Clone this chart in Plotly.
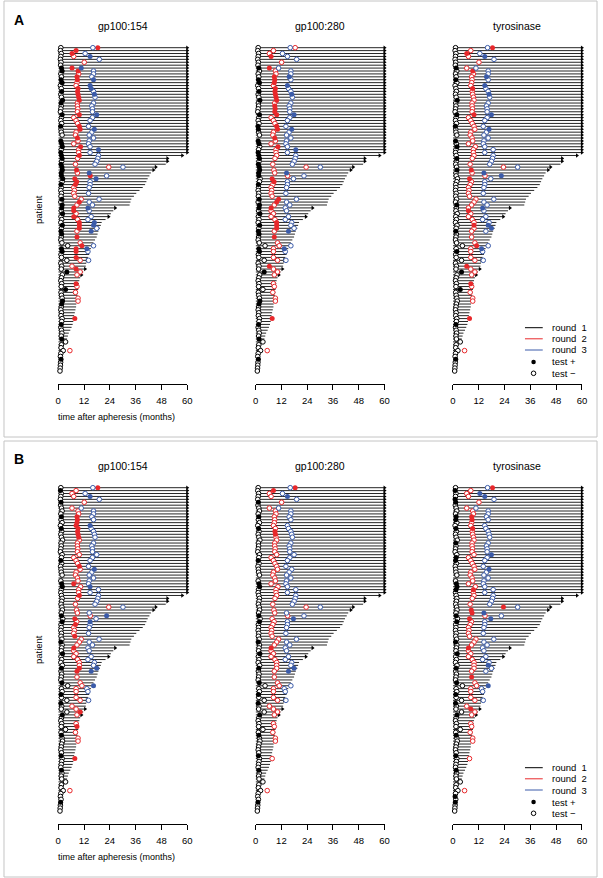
import plotly.graph_objects as go

W, H = 603, 878

# ---------------- data ----------------
panels = ["A", "B"]
antigens = ["gp100:154", "gp100:280", "tyrosinase"]
xticks = [0, 12, 24, 36, 48, 60]
round_labels = ["round\u00a0\u00a01", "round\u00a0\u00a02", "round\u00a0\u00a03"]
test_labels = ["test +", "test \u2212"]
round_colors = ["#000000", "#E8282B", "#3B5BA9"]

# follow-up (months) per patient, top row first
followup = [60, 60, 60, 60, 60, 60, 60, 60, 60, 60,
            60, 60, 60, 60, 60, 60, 60, 60, 60, 60,
            60, 60, 60, 60, 60, 60, 60, 60, 60, 60,
            60, 60, 60, 60, 60, 60, 60,
            57.7, 50.8, 50.8, 50.0, 45.4, 44.3, 43.1, 42.4, 41.6, 41.0,
            40.4, 39.3, 37.8, 36.3, 35.2, 34.0, 33.6, 33.2, 26.5, 25.6,
            24.5, 23.4, 22.0, 20.2, 19.8, 19.4, 18.7, 18.3, 17.9, 17.1,
            16.4, 15.6, 15.2, 14.8, 14.4, 13.8, 13.3, 13.0, 12.8, 12.5,
            11.6, 10.8, 10.2, 9.8, 9.6, 9.5, 9.3, 9.2, 9.0, 8.7,
            8.5, 8.4, 8.3, 8.0, 7.7, 7.4, 7.2, 7.0, 6.7, 6.2,
            5.6, 4.9, 4.5, 4.1, 3.4, 2.6, 2.0, 1.6, 1.5, 1.4,
            1.3, 1.2, 1.1, 1.0, 0.9]

# rows whose follow-up line ends with an arrow (still followed)
censored_rows = [0, 1, 2, 3, 4, 5, 6, 7, 8, 9, 10, 11, 12, 13, 14, 15, 16, 17, 18,
                 19, 20, 21, 22, 23, 24, 25, 26, 27, 28, 29, 30, 31, 32, 33, 34, 35,
                 36, 37, 38, 39, 41, 42, 55, 58, 73, 76, 78]

round1_time = [1.2, 1.0, 1.4, 1.2, 1.0, 1.3, 1.1, 1.5, 1.8, 1.2,
               1.5, 1.3, 1.8, 1.0, 1.4, 1.6, 1.2, 1.5, 2.0, 1.3,
               1.4, 1.2, 1.0, 1.8, 1.5, 1.2, 1.6, 1.1, 1.3, 1.4,
               1.8, -0.4, 1.2, 1.6, 1.9, 1.4, 1.2, 1.5, 1.8, 1.6,
               1.3, 1.7, 1.9, 1.4, 1.5, 2.1, 1.8, 1.3, 1.4, 1.2,
               1.5, 1.3, 1.7, 1.2, 1.8, 1.6, 1.4, 2.0, 1.3, 1.6,
               1.2, 1.9, 1.5, 1.3, 1.6, 1.4, 1.2, 1.7, 4.4, 1.5,
               1.8, 1.3, 1.5, 4.0, 1.2, 1.6, 1.4, 4.0, 1.9, 1.5,
               1.2, 1.6, 1.4, 3.4, 1.3, 1.5, 1.8, 2.0, 1.6, 1.4,
               1.2, 1.5, 1.3, 1.8, 1.6, 1.4, 1.2, 1.5, 1.7, 1.4,
               1.6, 3.4, 1.5, 1.3, 2.3, 1.2, 1.0, 1.3, 1.1, 1.0,
               0.9, 0.8]

round2_time = [18.4, 8.3, 6.4, 7.2, None, 12.1, None, 6.4, 9.2, 9.5,
               8.7, 8.9, 8.7, 8.3, 9.2, 9.0, 9.2, 9.5, 9.8, 8.9,
               8.9, 9.1, 8.9, 9.8, 7.2, 8.3, 9.0, 9.8, 10.2, 8.3,
               8.0, 8.9, 9.2, 7.2, 10.4, 9.5, 9.5, 9.8, 9.0, None,
               8.0, 23.5, 8.5, 8.9, 14.9, 7.7, 8.6, 8.0, 7.2, 7.5,
               7.2, 7.7, 10.7, 9.8, 8.7, 7.2, 7.2, 8.3, 7.2, 9.0,
               9.8, 9.8, 9.8, 8.7, None, 8.7, None, 10.2, 11.0, 8.3,
               8.3, None, 8.3, 10.2, None, 6.4, 8.3, 10.2, 8.7, None,
               None, 8.3, 8.7, None, 8.0, None, 9.2, 9.2, None, None,
               None, None, None, 7.7, None, None, None, None, None, None,
               None, None, None, None, 5.4, None, None, None, None, None,
               None, None]

round3_time = [16.1, None, 12.5, 14.8, 19.1, None, None, 10.7, 16.4, 16.4,
               15.6, 16.4, None, 14.8, 15.3, 16.4, 16.8, 17.1, None, 16.4,
               15.6, 15.9, 15.9, 17.9, 15.9, 14.8, None, 14.1, 16.8, 15.6,
               14.4, 16.4, 14.4, 14.1, 14.8, 18.7, 14.8, 18.7, 18.4, 17.9,
               17.1, 30.1, None, 14.4, 22.5, 17.6, 14.8, 14.8, 14.4, None,
               14.1, None, 19.0, 14.4, 15.9, 13.8, 14.4, None, 15.3, 13.8,
               16.8, 16.4, 17.9, 15.3, None, None, None, None, 16.4, 13.3,
               13.8, None, None, 14.1, None, None, None, None, None, None,
               None, None, None, None, None, None, None, None, None, None,
               None, None, None, None, None, None, None, None, None, None,
               None, None, None, None, None, None, None, None, None, None,
               None, None]

# test result per patient (1 = positive / filled, 0 = negative / open)
A_gp154_r1 = "0000000110 0110010011 0001000100 0011101110 1111110100 0010110100 0101100001 1000000100 0001000110 0000010000 1000000100 00"
A_gp154_r2 = "1110000110 1100111110 0001000110 0100100100 0010111100 0001011010 1110010011 1010001000 0101000000 0001000000 0000000000 00"
A_gp154_r3 = "0001000100 0101101000 0001000010 0000010000 0001010000 0000010000 1101000001 0000000000 0000000000 0000000000 0000000000 00"
A_gp280_r1 = "0000000100 0110010010 0001000110 0011001110 1111100100 0010110100 0101100001 1000000100 0000000110 0000010000 1000000100 00"
A_gp280_r2 = "0001000100 1110111110 1111000110 0100100000 0000011000 0011010000 1110010000 0000010000 0000000000 0001000000 0000000000 00"
A_gp280_r3 = "0000000000 1001001000 0001000010 0000010000 0001000000 0000000000 0001000001 0000000000 0000000000 0000000000 0000000000 00"
A_tyr_r1 = "0000000100 0100000010 0001000100 0010100010 0010000000 0000100000 0001000000 1000000100 0001000000 0000010000 0000000100 00"
A_tyr_r2 = "1010000010 0000100000 0001000000 0000000000 0010010000 0000001000 0100000010 0000010000 0100000000 0001000000 0000000000 00"
A_tyr_r3 = "0001000000 1001001000 0001000010 0000000000 0001100000 0000010000 0110000001 0000000000 0000000000 0000000000 0000000000 00"
B_gp154_r1 = "0100010000 1000100000 0000010000 0001100000 0000101000 0001000100 0010000100 0100100010 0000010000 0010000100 0000000010 00"
B_gp154_r2 = "1000000000 1111111100 0000000100 0001000100 0000010100 0100010000 0011000000 0000100100 0010000000 0001000000 0000000000 00"
B_gp154_r3 = "0001000000 0011000000 0000000010 0000100000 0000101000 0000000100 0011000010 0000000000 0000000000 0000000000 0000000000 00"
B_gp280_r1 = "0000010000 1000100000 0000010000 0001100000 0000101000 0001000100 0010000100 0100100010 0000010000 0010000100 0000000010 00"
B_gp280_r2 = "1100000000 0000011000 0000000000 0000000000 0000000000 0000010000 0000000000 0000000000 0000000000 0000000000 0000000000 00"
B_gp280_r3 = "0001000000 0000000000 0000000000 0000000000 0000010000 0000000000 0011000000 0000000000 0000000000 0000000000 0000000000 00"
B_tyr_r1 = "0100110000 1100100001 0000110000 0001110000 0000101000 0001000100 0010000100 0100100010 0000010000 0010000100 0000001010 00"
B_tyr_r2 = "1000000000 1100100000 0000000000 0000010000 0111010000 0000010000 0000010000 0000001000 0000000000 0000000000 0000000000 00"
B_tyr_r3 = "0011000000 0000000000 0001000010 0000000000 0001010000 0000000000 0100000010 0000000000 0000000000 0000000000 0000000000 00"

# ---------------- build ----------------
def clean(s):
    s = s.replace(" ", "")
    return (s + "0" * 112)[:112]

positivity = {
    (0, 0): [A_gp154_r1, A_gp154_r2, A_gp154_r3],
    (0, 1): [A_gp280_r1, A_gp280_r2, A_gp280_r3],
    (0, 2): [A_tyr_r1, A_tyr_r2, A_tyr_r3],
    (1, 0): [B_gp154_r1, B_gp154_r2, B_gp154_r3],
    (1, 1): [B_gp280_r1, B_gp280_r2, B_gp280_r3],
    (1, 2): [B_tyr_r1, B_tyr_r2, B_tyr_r3],
}
round_times = [round1_time, round2_time, round3_time]

FONT = "Liberation Sans, Arial, Helvetica, sans-serif"
X0 = [56.0, 256.0, 456.0]
XW = 130.7
PANEL_DY = [0.0, 440.0]
TOP_PX = 35.0
AXIS_PX = 384.0
Y_RANGE = [115.46, -4.36]

def px_x(px):
    return px / W

def px_y(py):
    return 1 - py / H

fig = go.Figure()
layout_axes = {}
annotations = []
shapes = []

for p, pname in enumerate(panels):
    dy = PANEL_DY[p]
    for j, ag in enumerate(antigens):
        k = p * 3 + j + 1
        xa = "x" if k == 1 else f"x{k}"
        ya = "y" if k == 1 else f"y{k}"
        # follow-up lines
        lx, ly = [], []
        for i, f in enumerate(followup):
            lx += [0, f, None]
            ly += [i, i, None]
        fig.add_trace(go.Scatter(x=lx, y=ly, mode="lines",
                                 line=dict(color="#262626", width=1),
                                 xaxis=xa, yaxis=ya, hoverinfo="skip", showlegend=False))
        fig.add_trace(go.Scatter(x=[followup[i] for i in censored_rows], y=censored_rows,
                                 mode="markers", cliponaxis=False,
                                 marker=dict(symbol="triangle-right", size=4, color="black"),
                                 xaxis=xa, yaxis=ya, hoverinfo="skip", showlegend=False))
        for r in range(3):
            s = clean(positivity[(p, j)][r])
            times = round_times[r]
            col = round_colors[r]
            fx, fy, ox, oy = [], [], [], []
            for i, t in enumerate(times):
                if t is None:
                    continue
                if s[i] == "1":
                    fx.append(t); fy.append(i)
                else:
                    ox.append(t); oy.append(i)
            fig.add_trace(go.Scatter(x=ox, y=oy, mode="markers", cliponaxis=False,
                                     marker=dict(symbol="circle", size=4.6, color="white",
                                                 line=dict(color=col, width=1)),
                                     xaxis=xa, yaxis=ya, hoverinfo="skip", showlegend=False))
            fig.add_trace(go.Scatter(x=fx, y=fy, mode="markers", cliponaxis=False,
                                     marker=dict(symbol="circle", size=5, color=col,
                                                 line=dict(color=col, width=0)),
                                     xaxis=xa, yaxis=ya, hoverinfo="skip", showlegend=False))
        xkey = "xaxis" if k == 1 else f"xaxis{k}"
        ykey = "yaxis" if k == 1 else f"yaxis{k}"
        layout_axes[xkey] = dict(domain=[px_x(X0[j]), px_x(X0[j] + XW)], range=[0, 60],
                                 anchor=ya, tickmode="array", tickvals=xticks,
                                 ticktext=[str(v) for v in xticks],
                                 ticks="outside", ticklen=5, tickwidth=1, tickcolor="black",
                                 ticklabelstandoff=3,
                                 showline=True, linecolor="black", linewidth=1,
                                 showgrid=False, zeroline=False, fixedrange=True,
                                 tickfont=dict(family=FONT, size=9.5, color="black"))
        layout_axes[ykey] = dict(domain=[px_y(AXIS_PX + dy), px_y(TOP_PX + dy)],
                                 range=Y_RANGE, anchor=xa, visible=False, fixedrange=True)
        # subplot title
        annotations.append(dict(text=ag, x=px_x(X0[j] + XW / 2), y=px_y(26 + dy),
                                xref="paper", yref="paper", showarrow=False,
                                xanchor="center", yanchor="middle",
                                font=dict(family=FONT, size=10.5, color="black")))
    # panel letter
    annotations.append(dict(text="<b>" + pname + "</b>", x=px_x(9), y=px_y(19.5 + dy),
                            xref="paper", yref="paper", showarrow=False,
                            xanchor="left", yanchor="middle",
                            font=dict(family=FONT, size=14, color="black")))
    annotations.append(dict(text="patient", x=px_x(36), y=px_y(209.5 + dy),
                            xref="paper", yref="paper", showarrow=False, textangle=-90,
                            xanchor="center", yanchor="middle",
                            font=dict(family=FONT, size=9.5, color="black")))
    annotations.append(dict(text="time after apheresis (months)", x=px_x(54), y=px_y(417 + dy),
                            xref="paper", yref="paper", showarrow=False,
                            xanchor="left", yanchor="middle",
                            font=dict(family=FONT, size=9, color="black")))
    # panel border
    shapes.append(dict(type="rect", xref="paper", yref="paper",
                       x0=px_x(1), x1=px_x(602), y0=px_y(1 + dy), y1=px_y(437 + dy),
                       line=dict(color="#c4c4c4", width=1), fillcolor="rgba(0,0,0,0)",
                       layer="below"))
    # legend
    ly_px = [327.7, 338.8, 350.0]
    for r in range(3):
        shapes.append(dict(type="line", xref="paper", yref="paper",
                           x0=px_x(529), x1=px_x(547), y0=px_y(ly_px[r] + dy), y1=px_y(ly_px[r] + dy),
                           line=dict(color=round_colors[r], width=1)))
        annotations.append(dict(text=round_labels[r], x=px_x(554), y=px_y(ly_px[r] + dy),
                                xref="paper", yref="paper", showarrow=False,
                                xanchor="left", yanchor="middle",
                                font=dict(family=FONT, size=9.5, color="black")))
    ty_px = [362.0, 373.3]
    for t in range(2):
        cy = ty_px[t] + dy
        shapes.append(dict(type="circle", xref="paper", yref="paper",
                           x0=px_x(537.7 - 2.3), x1=px_x(537.7 + 2.3),
                           y0=px_y(cy - 2.3), y1=px_y(cy + 2.3),
                           fillcolor="black" if t == 0 else "white",
                           line=dict(color="black", width=1 if t == 1 else 0)))
        annotations.append(dict(text=test_labels[t], x=px_x(554), y=px_y(cy),
                                xref="paper", yref="paper", showarrow=False,
                                xanchor="left", yanchor="middle",
                                font=dict(family=FONT, size=9.5, color="black")))

fig.update_layout(width=W, height=H, autosize=False,
                  margin=dict(l=0, r=0, t=0, b=0, pad=0),
                  paper_bgcolor="white", plot_bgcolor="rgba(0,0,0,0)",
                  showlegend=False, annotations=annotations, shapes=shapes,
                  font=dict(family=FONT, color="black"),
                  **layout_axes)

fig.write_html("out.html", config={"displayModeBar": False},
               post_script="document.body.style.margin='0';document.body.style.overflow='hidden';")
